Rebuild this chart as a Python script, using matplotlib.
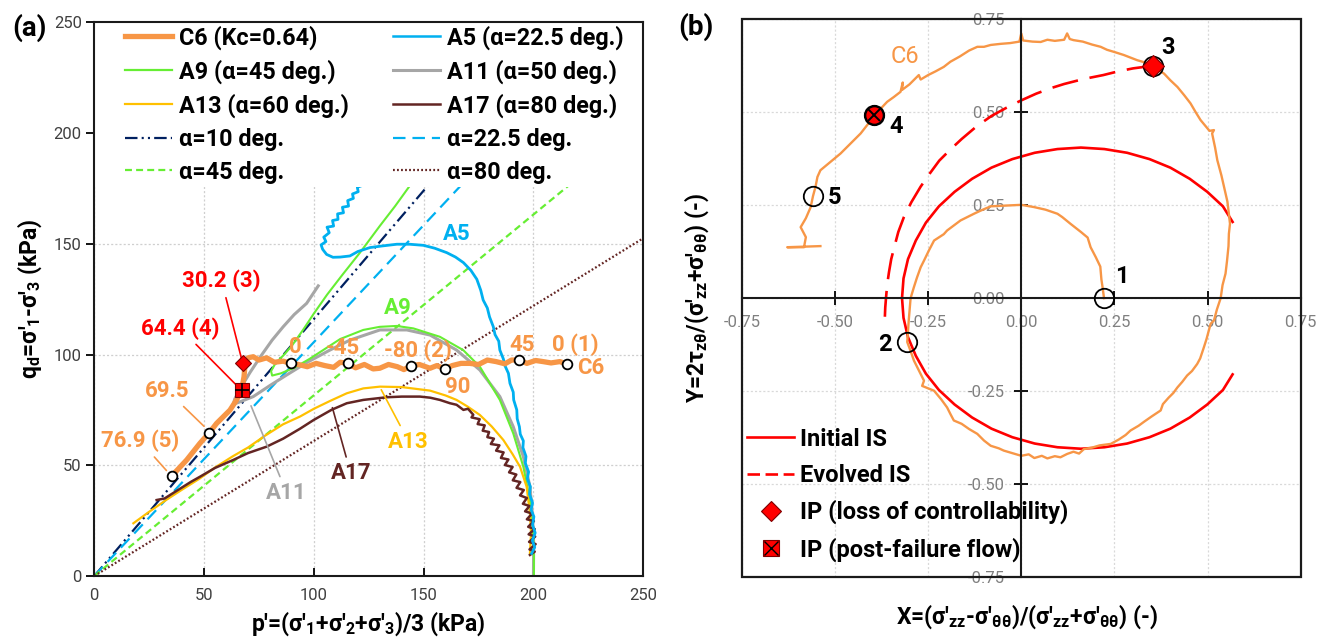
import matplotlib
matplotlib.use("Agg")
import matplotlib.pyplot as plt
from matplotlib.lines import Line2D
from matplotlib.patches import Rectangle
from matplotlib.ticker import MultipleLocator, FormatStrFormatter

plt.rcParams['font.family'] = ['Roboto', 'DejaVu Sans']
plt.rcParams['mathtext.fontset'] = 'custom'
plt.rcParams['mathtext.rm'] = 'Roboto'
plt.rcParams['mathtext.bf'] = 'Roboto:bold'
plt.rcParams['mathtext.it'] = 'Roboto:italic'
plt.rcParams['axes.unicode_minus'] = False
plt.rcParams['lines.scale_dashes'] = False

ORANGE = '#F79646'
BLUE = '#00B0F0'
GREEN = '#66EE33'
GREY = '#A6A6A6'
YELLOW = '#FFC000'
BROWN = '#632523'
NAVY = '#002060'
RED = '#FF0000'

# ---- (a) stress paths, p' and q in kPa ----
c6_p = [35.2, 42.1, 48.1, 52.4, 55.7, 61.8, 64.8, 67.1, 68.2, 68.6, 70.0, 72.4, 75.0, 78.5, 82.0, 86.0,
        89.6, 93.0, 97.0, 101.0, 105.0, 109.0, 112.0, 115.4, 119.0, 123.0, 127.0, 130.0, 134.0, 138.0,
        141.0, 144.2, 148.0, 152.9, 156.0, 159.7, 163.0, 167.0, 171.0, 175.0, 179.0, 183.0, 187.0, 190.0,
        193.5, 197.0, 201.0, 204.4, 208.0, 212.0, 215.3]
c6_q = [45.1, 52.4, 59.9, 64.7, 68.9, 74.9, 79.5, 84.0, 90.0, 95.0, 98.5, 99.0, 97.5, 98.5, 96.5, 97.0,
        96.0, 95.5, 94.5, 96.0, 95.0, 94.2, 96.5, 96.0, 94.0, 95.5, 93.5, 93.8, 95.5, 94.5,
        93.2, 94.8, 95.5, 93.8, 95.0, 93.5, 95.0, 96.0, 96.0, 95.5, 97.5, 96.8, 95.8, 97.5,
        97.5, 96.0, 97.3, 96.8, 96.2, 96.8, 95.7]

a5_p = [199.2, 200.6, 199.5, 200.8, 199.6, 200.2, 198.9, 199.6, 198.2, 198.6, 197.2, 197.8, 196.3, 196.6,
        195.2, 195.4, 194.0, 193.6, 192.6, 192.4, 191.0, 190.8, 189.3, 188.6, 187.0, 186.3, 184.7, 184.2,
        182.5, 181.7, 180.0, 179.0, 177.1, 176.0, 174.2, 171.5, 168.1, 164.5, 160.5, 155.0, 149.9, 143.5,
        137.8, 131.0, 125.6, 120.0, 116.4, 112.0, 108.7, 105.8, 104.0, 103.3, 105.5, 104.5, 107.0, 106.0,
        109.0, 108.5, 111.0, 110.8, 113.5, 113.0, 115.8, 115.4, 118.0, 117.6, 120.2, 119.8, 122.5, 124.0,
        127.0, 130.0]
a5_q = [10.2, 13.0, 16.0, 19.5, 23.0, 26.8, 30.0, 33.0, 37.0, 40.3, 44.0, 47.0, 51.0, 54.0,
        58.0, 61.0, 64.0, 67.4, 71.0, 75.0, 79.5, 83.0, 87.0, 91.5, 95.0, 98.0, 102.0, 106.0,
        109.0, 112.6, 117.0, 121.0, 124.6, 129.0, 134.0, 138.0, 141.5, 144.0, 146.0, 148.0, 149.3, 149.8,
        149.8, 149.0, 148.3, 146.5, 144.5, 144.0, 143.9, 145.2, 147.5, 149.5, 151.0, 153.0, 155.0, 157.5,
        158.0, 160.5, 161.0, 163.5, 164.0, 166.5, 167.0, 169.5, 170.5, 172.5, 173.5, 175.5, 176.5, 180.0,
        185.0, 190.0]

a9_p = [200.2, 200.2, 199.9, 198.4, 195.4, 190.8, 184.7, 175.6, 168.0, 157.4, 145.3, 137.7, 130.0, 122.5,
        112.0, 105.0, 98.0, 91.0, 85.0, 81.0, 80.5, 82.5, 86.5, 90.0, 95.0, 100.0, 106.0, 113.0, 121.0,
        130.0, 137.0, 141.0, 145.0, 152.0]
a9_q = [0.0, 8.7, 19.3, 34.3, 49.3, 64.4, 79.5, 94.5, 102.0, 108.0, 111.8, 112.9, 112.5, 111.1,
        107.0, 102.5, 98.0, 94.0, 91.5, 90.5, 92.5, 96.0, 100.0, 104.0, 111.0, 118.5, 127.0, 136.0, 146.0,
        158.0, 167.0, 172.5, 178.0, 188.0]

a11_p = [200.0, 200.1, 199.5, 198.4, 195.4, 190.8, 184.7, 175.6, 165.0, 152.9, 142.3, 130.1, 116.4, 107.3,
         97.0, 88.0, 80.0, 72.4, 66.0, 63.3, 64.0, 67.0, 71.0, 76.0, 81.0, 86.0, 91.0, 96.7, 102.0]
a11_q = [0.0, 15.0, 28.0, 40.3, 53.9, 67.4, 81.0, 93.0, 102.0, 108.8, 111.1, 111.1, 106.5, 102.0,
         96.5, 91.0, 86.0, 81.0, 78.5, 77.5, 80.0, 85.5, 92.0, 99.5, 106.5, 112.5, 118.0, 123.1, 131.0]

a13_p = [17.8, 25.0, 33.0, 40.0, 48.0, 55.0, 63.0, 70.0, 78.0, 86.0, 93.7, 100.0, 107.3, 115.0, 122.5,
         130.1, 140.0, 152.9, 160.0, 165.0, 170.0, 175.6, 181.0, 186.3, 190.5, 193.9, 196.9, 198.4, 198.9,
         198.4]
a13_q = [23.8, 29.0, 34.5, 39.0, 44.0, 49.0, 54.0, 58.0, 63.5, 68.5, 72.0, 75.5, 79.0, 82.5, 84.7,
         85.5, 85.3, 83.7, 81.5, 79.5, 76.5, 72.7, 67.5, 61.4, 55.0, 49.3, 40.3, 28.3, 19.3,
         10.2]

a17_p = [28.4, 32.0, 36.0, 40.0, 44.0, 48.1, 55.0, 63.3, 70.0, 78.5, 86.0, 93.7, 100.0, 108.0, 115.0,
         122.5, 133.1, 140.0, 148.3, 153.0, 157.4, 162.0, 165.0, 168.1, 170.2, 172.6, 171.8, 175.5, 174.6,
         177.8, 176.9, 179.8, 179.0, 182.0, 180.6, 184.5, 183.0, 186.4, 185.2, 188.6, 187.0, 190.5, 188.9,
         192.2, 190.6, 194.0, 192.3, 195.6, 193.9, 197.0, 195.2, 198.2, 196.2, 199.4, 197.0, 200.2, 197.6,
         200.6, 197.8, 200.8, 198.0, 201.0, 198.2, 200.6, 198.4]
a17_q = [34.3, 35.0, 37.5, 40.0, 42.5, 44.8, 48.8, 52.4, 55.5, 58.4, 62.0, 66.5, 70.5, 75.0, 78.0,
         79.5, 80.7, 81.0, 81.0, 80.5, 79.5, 78.0, 77.3, 75.0, 75.5, 72.8, 71.6, 70.8, 68.6,
         68.0, 65.6, 65.0, 62.7, 62.0, 59.6, 59.0, 56.6, 55.8, 53.3, 52.6, 50.1, 49.2, 46.8,
         45.8, 43.2, 42.4, 39.8, 38.8, 36.4, 35.2, 32.6, 31.6, 29.2, 28.2, 25.6, 24.8, 22.2,
         21.2, 18.8, 17.8, 15.4, 14.4, 12.0, 11.0, 9.5]

# straight reference lines through the origin
ref_p = [0, 250]
ref10_q = [0, 290]
ref22_q = [0, 264]
ref45_q = [0, 204]
ref80_q = [0, 152.5]

# states marked along C6
mark_p = [35.2, 52.4, 89.6, 115.4, 144.2, 159.7, 193.5, 215.3]
mark_q = [45.1, 64.7, 96.0, 96.0, 94.8, 93.5, 97.5, 95.7]
ip3_a = (67.6, 96.0)
ip4_a = (67.3, 84.2)

# ---- (b) normalized stress path ----
c6x = [0.222, 0.218, 0.215, 0.212, 0.200, 0.186, 0.178, 0.160, 0.132, 0.110, 0.097, 0.065, 0.034, 0.000,
       -0.040, -0.082, -0.110, -0.127, -0.163, -0.199, -0.208, -0.234, -0.248, -0.261, -0.270, -0.280,
       -0.288, -0.297, -0.302, -0.306, -0.296, -0.288, -0.272, -0.261, -0.266, -0.234, -0.215, -0.199,
       -0.190, -0.181, -0.160, -0.140, -0.118, -0.100, -0.082, -0.060, -0.047, -0.020, 0.000, 0.020, 0.035,
       0.055, 0.070, 0.090, 0.105, 0.123, 0.140, 0.155, 0.168, 0.190, 0.210, 0.240, 0.262, 0.280, 0.293,
       0.315, 0.330, 0.350, 0.374, 0.380, 0.395, 0.408, 0.419, 0.432, 0.445, 0.458, 0.472, 0.480, 0.490,
       0.497, 0.508, 0.517, 0.525, 0.535, 0.540, 0.548, 0.552, 0.556, 0.557, 0.560, 0.557, 0.553, 0.544,
       0.537, 0.526, 0.520, 0.512, 0.517, 0.505, 0.495, 0.481, 0.468, 0.454, 0.437, 0.419, 0.400, 0.383,
       0.365, 0.353, 0.335, 0.311, 0.290, 0.275, 0.250, 0.230, 0.213, 0.190, 0.165, 0.140, 0.130, 0.123,
       0.115, 0.090, 0.070, 0.052, 0.030, 0.005, 0.000, -0.005, -0.030, -0.055, -0.082, -0.100, -0.118,
       -0.140, -0.165, -0.190, -0.208, -0.230, -0.250, -0.270, -0.275, -0.300, -0.320, -0.318, -0.324,
       -0.342, -0.360, -0.375, -0.395, -0.410, -0.431, -0.458, -0.485, -0.510, -0.539, -0.547, -0.552,
       -0.559, -0.565, -0.578, -0.592, -0.578, -0.583, -0.628, -0.539]
c6y = [0.000, 0.030, 0.050, 0.085, 0.110, 0.137, 0.163, 0.178, 0.200, 0.218, 0.227, 0.238, 0.245, 0.251,
       0.249, 0.247, 0.235, 0.227, 0.209, 0.182, 0.172, 0.155, 0.128, 0.101, 0.083, 0.055,
       0.030, 0.000, -0.060, -0.118, -0.145, -0.168, -0.200, -0.222, -0.236, -0.249, -0.272, -0.294,
       -0.312, -0.329, -0.338, -0.352, -0.365, -0.383, -0.397, -0.404, -0.410, -0.418, -0.424, -0.420, -0.430,
       -0.424, -0.431, -0.425, -0.428, -0.419, -0.413, -0.418, -0.406, -0.402, -0.396, -0.392, -0.380, -0.368, -0.356,
       -0.343, -0.332, -0.318, -0.302, -0.285, -0.268, -0.255, -0.240, -0.225, -0.208, -0.196, -0.177, -0.162, -0.132,
       -0.110, -0.069, -0.060, -0.030, 0.000, 0.035, 0.066, 0.100, 0.140, 0.173, 0.200, 0.227, 0.260, 0.299,
       0.330, 0.371, 0.405, 0.443, 0.452, 0.450, 0.462, 0.479, 0.500, 0.524, 0.546, 0.568, 0.586, 0.604,
       0.616, 0.625, 0.633, 0.640, 0.648, 0.654, 0.662, 0.668, 0.676, 0.682, 0.690, 0.694, 0.697, 0.712,
       0.695, 0.692, 0.695, 0.689, 0.690, 0.693, 0.712, 0.690, 0.686, 0.684, 0.681, 0.676, 0.676,
       0.666, 0.650, 0.636, 0.622, 0.610, 0.600, 0.588, 0.600, 0.575, 0.560, 0.580, 0.555,
       0.541, 0.528, 0.512, 0.492, 0.470, 0.443, 0.416, 0.389, 0.368, 0.344, 0.326, 0.300,
       0.274, 0.245, 0.215, 0.191, 0.164, 0.137, 0.137, 0.140]

init_x = [0.567, 0.541, 0.499, 0.452, 0.400, 0.344, 0.284, 0.223, 0.160, 0.097, 0.036, -0.024, -0.080,
          -0.132, -0.179, -0.221, -0.256, -0.283, -0.304, -0.316, -0.320, -0.316, -0.304, -0.283, -0.256,
          -0.221, -0.179, -0.132, -0.080, -0.024, 0.036, 0.097, 0.160, 0.223, 0.284, 0.344, 0.400, 0.452,
          0.499, 0.541, 0.567]
init_y = [0.205, 0.247, 0.286, 0.321, 0.351, 0.374, 0.391, 0.401, 0.405, 0.401, 0.391, 0.374, 0.351,
          0.321, 0.286, 0.247, 0.203, 0.155, 0.105, 0.053, 0.000, -0.053, -0.105, -0.155, -0.203,
          -0.247, -0.286, -0.321, -0.351, -0.374, -0.391, -0.401, -0.405, -0.401, -0.391, -0.374, -0.351, -0.321,
          -0.286, -0.247, -0.205]

evol_x = [0.353, 0.330, 0.300, 0.260, 0.220, 0.185, 0.150, 0.115, 0.080, 0.040, 0.000, -0.040, -0.080,
          -0.120, -0.160, -0.190, -0.220, -0.245, -0.270, -0.295, -0.315, -0.330, -0.340, -0.349, -0.355,
          -0.360, -0.363, -0.365, -0.366]
evol_y = [0.625, 0.622, 0.618, 0.610, 0.600, 0.593, 0.585, 0.576, 0.565, 0.550, 0.532, 0.512, 0.490,
          0.462, 0.428, 0.400, 0.370, 0.336, 0.300, 0.258, 0.218, 0.178, 0.140, 0.105, 0.070,
          0.035, 0.000, -0.025, -0.050]

pt_x = [0.222, -0.306, 0.353, -0.395, -0.559]
pt_y = [0.000, -0.118, 0.625, 0.492, 0.274]
pt_names = ['1', '2', '3', '4', '5']

fig = plt.figure(figsize=(13.26, 6.39), dpi=100)

# ================= panel (a) =================
ax = fig.add_axes([0.0711, 0.0986, 0.414, 0.8665])
ax.set_xlim(0, 250)
ax.set_ylim(0, 250)
ax.xaxis.set_major_locator(MultipleLocator(50))
ax.yaxis.set_major_locator(MultipleLocator(50))
ax.grid(True, color='#cfcfcf', ls=(0, (1.5, 1.5)), lw=0.9)
ax.set_axisbelow(True)
for s in ax.spines.values():
    s.set_linewidth(1.5)
    s.set_color('#1a1a1a')
ax.tick_params(axis='x', direction='in', length=6, width=1.3, pad=9, labelsize=12, labelcolor='#404040')
ax.tick_params(axis='y', direction='out', length=6, width=1.3, pad=3, labelsize=12, labelcolor='#404040')

ax.plot(ref_p, ref10_q, color=NAVY, lw=1.6, dashes=(9, 3, 1.5, 3, 1.5, 3))
ax.plot(ref_p, ref22_q, color=BLUE, lw=1.6, dashes=(9, 5))
ax.plot(ref_p, ref45_q, color=GREEN, lw=1.6, dashes=(5, 3))
ax.plot(ref_p, ref80_q, color=BROWN, lw=1.6, dashes=(1.3, 1.6))

ax.plot(a11_p, a11_q, color=GREY, lw=2.2)
ax.plot(a9_p, a9_q, color=GREEN, lw=1.5)
ax.plot(a13_p, a13_q, color=YELLOW, lw=1.6)
ax.plot(a17_p, a17_q, color=BROWN, lw=1.8)
ax.plot(a5_p, a5_q, color=BLUE, lw=2.0)
ax.plot(c6_p, c6_q, color=ORANGE, lw=3.8, solid_joinstyle='round')

ax.plot(mark_p, mark_q, ls='none', marker='o', ms=7, mfc='white', mec='black', mew=1.3, zorder=4)
ax.plot(*ip3_a, ls='none', marker='D', ms=8, mfc=RED, mec='#7f0000', mew=0.8, zorder=5)
ax.plot(*ip4_a, ls='none', marker='s', ms=10, mfc=RED, mec='#7f0000', mew=0.8, zorder=5)
ax.plot(*ip4_a, ls='none', marker='+', ms=10, mec='black', mew=1.2, zorder=6)

# legend area is opaque
ax.add_patch(Rectangle((0, 0.7026), 1, 0.2974, transform=ax.transAxes, fc='white', ec='none', zorder=2.3))

lbl = dict(fontsize=16, fontweight='bold', ha='center', va='center')
lead = dict(arrowstyle='-', lw=1.2, shrinkA=2, shrinkB=2)
ax.annotate('30.2 (3)', xy=ip3_a, xytext=(58, 133.2), color=RED, arrowprops=dict(color=RED, **lead), **lbl)
ax.annotate('64.4 (4)', xy=(65.1, 85.8), xytext=(39.1, 111.8), color=RED, arrowprops=dict(color=RED, **lead), **lbl)
ax.annotate('69.5', xy=(50.9, 66.7), xytext=(33.3, 83.6), color=ORANGE, arrowprops=dict(color=ORANGE, **lead), **lbl)
ax.annotate('76.9 (5)', xy=(33.7, 46.7), xytext=(20.8, 61.0), color=ORANGE, arrowprops=dict(color=ORANGE, **lead), **lbl)
ax.annotate('A11', xy=(70.9, 78.0), xytext=(87.6, 37.5), color=GREY, arrowprops=dict(color=GREY, **lead), **lbl)
ax.annotate('A13', xy=(130.1, 85.2), xytext=(143.2, 60.6), color=YELLOW, arrowprops=dict(color=YELLOW, **lead), **lbl)
ax.annotate('A17', xy=(108.1, 77.2), xytext=(116.8, 46.3), color=BROWN, arrowprops=dict(color=BROWN, **lead), **lbl)
ax.text(91.4, 103.5, '0', color=ORANGE, **lbl)
ax.text(113.0, 102.8, '-45', color=ORANGE, **lbl)
ax.text(147.6, 101.6, '-80 (2)', color=ORANGE, **lbl)
ax.text(165.4, 85.5, '90', color=ORANGE, **lbl)
ax.text(194.6, 104.3, '45', color=ORANGE, **lbl)
ax.text(218.9, 104.3, '0 (1)', color=ORANGE, **lbl)
ax.text(226.1, 93.8, 'C6', color=ORANGE, **lbl)
ax.text(165.0, 154.3, 'A5', color=BLUE, **lbl)
ax.text(138.0, 121.0, 'A9', color=GREEN, **lbl)

col1 = [Line2D([], [], color=ORANGE, lw=3.8),
        Line2D([], [], color=GREEN, lw=1.6),
        Line2D([], [], color=YELLOW, lw=1.6),
        Line2D([], [], color=NAVY, lw=1.6, dashes=(9, 3, 1.5, 3, 1.5, 3)),
        Line2D([], [], color=GREEN, lw=1.6, dashes=(5, 3))]
col2 = [Line2D([], [], color=BLUE, lw=1.8),
        Line2D([], [], color=GREY, lw=2.2),
        Line2D([], [], color=BROWN, lw=1.8),
        Line2D([], [], color=BLUE, lw=1.6, dashes=(9, 5)),
        Line2D([], [], color=BROWN, lw=1.6, dashes=(1.3, 1.6))]
names1 = ['C6 (Kc=0.64)', 'A9 (α=45 deg.)', 'A13 (α=60 deg.)', 'α=10 deg.', 'α=45 deg.']
names2 = ['A5 (α=22.5 deg.)', 'A11 (α=50 deg.)', 'A17 (α=80 deg.)', 'α=22.5 deg.', 'α=80 deg.']
leg = ax.legend(col1 + col2, names1 + names2, ncol=2, loc='upper left', bbox_to_anchor=(0.056, 0.995),
                frameon=False, borderpad=0, borderaxespad=0, handlelength=2.0, handletextpad=0.3,
                columnspacing=1.9, labelspacing=0.42, prop={'size': 16.8, 'weight': 'bold'})
leg.set_zorder(6)

fig.text(0.278, 0.0235, "p'=(σ'$_\\mathbf{1}$+σ'$_\\mathbf{2}$+σ'$_\\mathbf{3}$)/3 (kPa)",
         fontsize=16.5, fontweight='bold', ha='center', va='center')
fig.text(0.0226, 0.532, "q$_\\mathbf{d}$=σ'$_\\mathbf{1}$-σ'$_\\mathbf{3}$ (kPa)",
         fontsize=16.5, fontweight='bold', ha='center', va='center', rotation=90)
fig.text(0.0219, 0.956, '(a)', fontsize=20, fontweight='bold', ha='center', va='center')

# ================= panel (b) =================
bx = fig.add_axes([0.5594, 0.097, 0.4216, 0.8728])
bx.set_xlim(-0.75, 0.75)
bx.set_ylim(-0.75, 0.75)
bx.xaxis.set_major_locator(MultipleLocator(0.25))
bx.yaxis.set_major_locator(MultipleLocator(0.25))
bx.xaxis.set_major_formatter(FormatStrFormatter('%.2f'))
bx.yaxis.set_major_formatter(FormatStrFormatter('%.2f'))
bx.grid(True, color='#d9d9d9', ls=(0, (1.5, 1.5)), lw=0.9)
bx.set_axisbelow(True)
bx.spines['left'].set_position('zero')
bx.spines['bottom'].set_position('zero')
bx.spines['right'].set_visible(False)
bx.spines['top'].set_visible(False)
for s in ('left', 'bottom'):
    bx.spines[s].set_linewidth(1.5)
    bx.spines[s].set_color('#1a1a1a')
bx.add_patch(Rectangle((0, 0), 1, 1, transform=bx.transAxes, fill=False, ec='#1a1a1a', lw=1.6,
                       zorder=3, clip_on=False))
bx.tick_params(direction='inout', length=10, width=1.3, labelsize=12, labelcolor='#808080')
bx.tick_params(axis='x', pad=7)
bx.tick_params(axis='y', pad=7)

bx.plot(init_x, init_y, color=RED, lw=1.9)
bx.plot(evol_x, evol_y, color=RED, lw=1.9, dashes=(19, 8.5))
bx.plot(c6x, c6y, color=ORANGE, lw=1.7)

bx.plot(pt_x, pt_y, ls='none', marker='o', ms=14, mfc='none', mec='black', mew=1.3, zorder=4)
bx.plot(pt_x[2], pt_y[2], ls='none', marker='D', ms=11, mfc=RED, mec='#7f0000', mew=0.8, zorder=5)
bx.plot(pt_x[3], pt_y[3], ls='none', marker='o', ms=13, mfc=RED, mec='black', mew=1.2, zorder=5)
bx.plot(pt_x[3], pt_y[3], ls='none', marker='x', ms=9, mec='black', mew=1.4, zorder=6)

num = dict(fontsize=17, fontweight='bold', ha='center', va='center', color='black')
bx.text(0.270, 0.057, pt_names[0], **num)
bx.text(-0.367, -0.125, pt_names[1], **num)
bx.text(0.394, 0.674, pt_names[2], **num)
bx.text(-0.337, 0.461, pt_names[3], **num)
bx.text(-0.501, 0.272, pt_names[4], **num)
bx.text(-0.311, 0.649, 'C6', fontsize=17, ha='center', va='center', color=ORANGE)

h_init = Line2D([], [], color=RED, lw=1.9)
h_evol = Line2D([], [], color=RED, lw=1.9, dashes=(9, 4))
h_ip3 = Line2D([], [], ls='none', marker='D', ms=10, mfc=RED, mec='#7f0000', mew=0.8)
h_ip4 = (Line2D([], [], ls='none', marker='s', ms=12, mfc=RED, mec='#7f0000', mew=0.8),
         Line2D([], [], ls='none', marker='x', ms=10, mec='black', mew=1.0))
leg_b = bx.legend([h_init, h_evol, h_ip3, h_ip4],
                  ['Initial IS', 'Evolved IS', 'IP (loss of controllability)', 'IP (post-failure flow)'],
                  loc='upper left', bbox_to_anchor=(0.0095, 0.268), frameon=False, borderpad=0,
                  borderaxespad=0, handlelength=2.0, handletextpad=0.25, labelspacing=0.56,
                  prop={'size': 17, 'weight': 'bold'})
leg_b.set_zorder(6)

fig.text(0.7745, 0.0344, "X=(σ'$_\\mathbf{zz}$-σ'$_\\mathbf{θθ}$)/(σ'$_\\mathbf{zz}$+σ'$_\\mathbf{θθ}$) (-)",
         fontsize=16.5, fontweight='bold', ha='center', va='center')
fig.text(0.525, 0.534, "Y=2τ$_\\mathbf{zθ}$/(σ'$_\\mathbf{zz}$+σ'$_\\mathbf{θθ}$) (-)",
         fontsize=16.5, fontweight='bold', ha='center', va='center', rotation=90)
fig.text(0.525, 0.958, '(b)', fontsize=20, fontweight='bold', ha='center', va='center')

fig.savefig('out.png', dpi=100)
